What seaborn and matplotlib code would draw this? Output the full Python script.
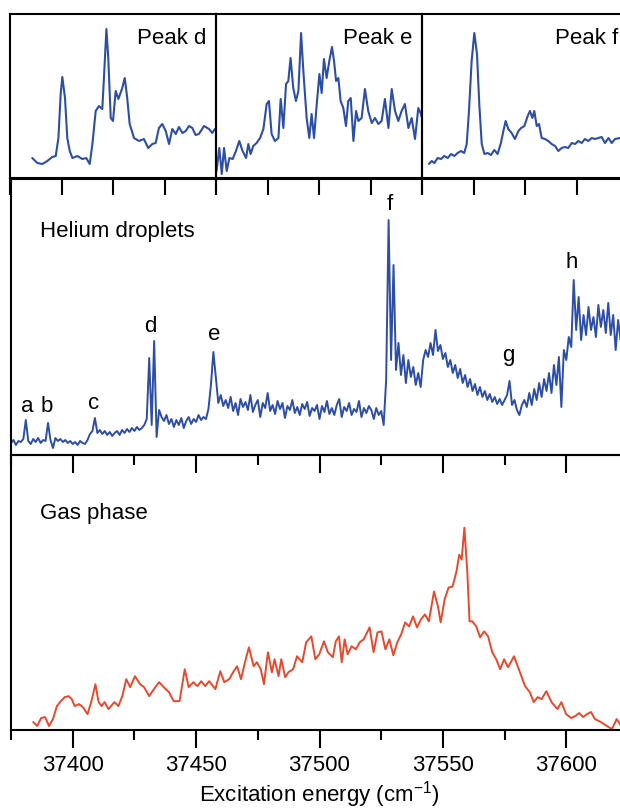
import numpy as np
import matplotlib
matplotlib.use('Agg')
import matplotlib.pyplot as plt
from matplotlib.ticker import MultipleLocator
import seaborn as sns

sns.set_style('ticks')
plt.rcParams['font.family'] = ['Liberation Sans', 'DejaVu Sans']
plt.rcParams['mathtext.fontset'] = 'custom'
plt.rcParams['mathtext.rm'] = 'Liberation Sans'
plt.rcParams['mathtext.it'] = 'Liberation Sans:italic'
plt.rcParams['text.color'] = 'black'
plt.rcParams['axes.labelcolor'] = 'black'
plt.rcParams['xtick.color'] = 'black'

BLUE = '#2d4ea5'
RED = '#e6492d'

# --- inset: peak d (zoom around 37428-37438 cm-1) ---
peak_d_x = [37429.08, 37429.33, 37429.57, 37429.81, 37430.05, 37430.22, 37430.35, 37430.46,
            37430.54, 37430.67, 37430.78, 37430.90, 37431.03, 37431.27, 37431.51, 37431.70,
            37431.87, 37432.00, 37432.16, 37432.32, 37432.48, 37432.56, 37432.68, 37432.77,
            37432.89, 37433.00, 37433.13, 37433.26, 37433.45, 37433.57, 37433.69, 37433.81,
            37434.02, 37434.26, 37434.50, 37434.71, 37434.91, 37435.07, 37435.23, 37435.39,
            37435.56, 37435.72, 37435.88, 37436.05, 37436.20, 37436.37, 37436.53, 37436.69,
            37436.85, 37437.01, 37437.17, 37437.42, 37437.66, 37437.82, 37437.95]
peak_d_y = [20, 15, 14, 17, 21, 22, 40, 84,
            101, 80, 40, 27, 20, 22, 19, 20,
            14, 34, 67, 72, 69, 100, 149, 120,
            60, 57, 87, 79, 90, 100, 80, 54,
            40, 37, 39, 30, 34, 35, 50, 54,
            47, 34, 49, 44, 51, 45, 47, 52,
            50, 43, 44, 52, 49, 45, 49]

# --- inset: peak e (37453-37463 cm-1) ---
peak_e_x = [37453.03, 37453.16, 37453.28, 37453.39, 37453.52, 37453.65, 37453.81, 37453.97,
            37454.13, 37454.29, 37454.46, 37454.57, 37454.68, 37454.81, 37454.97, 37455.14,
            37455.30, 37455.46, 37455.57, 37455.70, 37455.86, 37456.03, 37456.14, 37456.27,
            37456.40, 37456.51, 37456.62, 37456.75, 37456.88, 37457.00, 37457.13, 37457.24,
            37457.40, 37457.53, 37457.64, 37457.76, 37457.89, 37458.02, 37458.13, 37458.24,
            37458.37, 37458.50, 37458.63, 37458.73, 37458.83, 37458.94, 37459.05, 37459.18,
            37459.31, 37459.42, 37459.54, 37459.67, 37459.80, 37459.91, 37460.07, 37460.23,
            37460.39, 37460.56, 37460.72, 37460.88, 37461.04, 37461.20, 37461.37, 37461.53,
            37461.69, 37461.85, 37462.01, 37462.17, 37462.34, 37462.50, 37462.66, 37462.82,
            37462.95, 37463.06]
peak_e_y = [7, 30, 4, 30, 7, 20, 19, 27,
            37, 27, 20, 34, 24, 32, 35, 40,
            49, 74, 77, 44, 37, 40, 79, 50,
            94, 97, 120, 90, 77, 87, 145, 107,
            60, 40, 64, 40, 74, 104, 85, 119,
            100, 117, 131, 117, 97, 100, 77, 70,
            52, 77, 80, 37, 67, 57, 60, 89,
            67, 55, 60, 54, 57, 79, 50, 89,
            67, 57, 67, 74, 50, 60, 39, 70,
            64, 54]

# --- inset: peak f (37525.5-37535.5 cm-1) ---
peak_f_x = [37525.84, 37525.97, 37526.10, 37526.26, 37526.42, 37526.58, 37526.75, 37526.91,
            37527.07, 37527.23, 37527.39, 37527.55, 37527.67, 37527.78, 37527.91, 37528.04,
            37528.17, 37528.28, 37528.40, 37528.53, 37528.69, 37528.85, 37529.01, 37529.17,
            37529.33, 37529.45, 37529.56, 37529.69, 37529.85, 37530.01, 37530.18, 37530.31,
            37530.47, 37530.63, 37530.74, 37530.86, 37530.95, 37531.07, 37531.18, 37531.31,
            37531.47, 37531.63, 37531.79, 37531.96, 37532.12, 37532.28, 37532.44, 37532.60,
            37532.77, 37532.93, 37533.09, 37533.25, 37533.41, 37533.57, 37533.74, 37533.90,
            37534.06, 37534.22, 37534.38, 37534.55, 37534.71, 37534.87, 37535.11, 37535.35,
            37535.50]
peak_f_y = [14, 17, 15, 20, 19, 22, 20, 24,
            22, 25, 27, 25, 34, 67, 117, 145,
            124, 74, 34, 24, 25, 23, 28, 24,
            35, 47, 57, 49, 45, 39, 47, 50,
            52, 62, 67, 60, 67, 52, 54, 40,
            39, 37, 34, 32, 27, 30, 31, 30,
            35, 34, 37, 35, 39, 37, 40, 39,
            40, 41, 35, 40, 35, 39, 40, 38,
            40]

# --- helium droplet spectrum, 1 cm-1 steps from 37375 to 37625 ---
he_energy = np.arange(37375, 37626)
he_signal = [12, 15, 10, 14, 13, 16,
             35, 14, 11, 16, 13, 17, 12, 15, 14, 32,
             15, 7, 17, 14, 16, 13, 15, 12, 14, 11,
             13, 10, 14, 12, 11, 15, 21, 24, 37, 22,
             25, 21, 24, 20, 23, 19, 22, 24, 20, 25,
             22, 26, 23, 27, 24, 28, 25, 27, 30, 36,
             97, 30, 114, 18, 45, 38, 34, 40, 31, 36,
             28, 35, 30, 37, 27, 34, 38, 31, 36, 33,
             40, 35, 38, 36, 46, 70, 103, 78, 52, 60,
             49, 55, 47, 58, 44, 52, 40, 56, 48, 53,
             45, 60, 43, 50, 55, 38, 52, 47, 62, 44,
             50, 41, 54, 46, 52, 37, 49, 45, 55, 42,
             48, 40, 51, 46, 53, 39, 47, 44, 50, 36,
             49, 43, 54, 41, 47, 40, 50, 56, 38, 48,
             44, 52, 40, 46, 43, 54, 38, 47, 42, 49,
             45, 36, 47, 40, 44, 30, 75, 235, 95, 190,
             85, 112, 80, 100, 72, 95, 78, 88, 70, 82,
             68, 95, 105, 98, 112, 100, 125, 104, 110, 96,
             102, 88, 95, 82, 90, 77, 86, 72, 80, 68,
             76, 64, 71, 60, 68, 58, 64, 55, 61, 53,
             58, 51, 56, 50, 55, 60, 74, 50, 55, 45,
             40, 50, 55, 48, 62, 50, 66, 55, 72, 58,
             76, 64, 82, 62, 90, 70, 98, 48, 105, 95,
             118, 108, 175, 125, 158, 115, 140, 120, 148, 125,
             138, 118, 150, 128, 145, 122, 152, 120, 140, 105,
             135, 115, 130, 112, 125]

# peak labels in the droplet spectrum (energy, height of text baseline)
he_labels = ['a', 'b', 'c', 'd', 'e', 'f', 'g', 'h']
he_label_x = [37381.5, 37389.6, 37408.5, 37431.6, 37457.2, 37528.5, 37576.4, 37602.3]
he_label_y = [43, 43, 46, 123, 115, 245, 94, 187]

# --- gas phase spectrum ---
gas_energy = [37384.0, 37385.6, 37387.2, 37388.8, 37390.4, 37392.0, 37393.6, 37395.2, 37396.8, 37398.4,
              37399.6, 37400.8, 37402.5, 37404.1, 37406.0, 37407.6, 37409.2, 37410.5, 37411.7, 37412.9,
              37414.5, 37416.9, 37418.5, 37420.1, 37421.7, 37423.3, 37425.2, 37427.3, 37428.9, 37431.0,
              37432.9, 37435.0, 37436.9, 37439.0, 37440.9, 37443.3, 37445.4, 37447.0, 37448.9, 37450.5,
              37452.1, 37453.7, 37455.3, 37457.8, 37459.8, 37461.4, 37463.4, 37465.0, 37466.6, 37468.2,
              37469.8, 37471.4, 37473.3, 37474.6, 37476.2, 37477.5, 37479.1, 37480.7, 37481.8, 37483.4,
              37484.5, 37486.1, 37487.4, 37489.3, 37490.9, 37493.0, 37494.6, 37496.7, 37498.3, 37499.9,
              37501.8, 37503.4, 37505.4, 37506.6, 37507.9, 37509.0, 37510.2, 37511.4, 37513.0, 37514.7,
              37516.3, 37517.9, 37520.3, 37521.9, 37523.5, 37525.1, 37526.7, 37528.3, 37529.9, 37531.5,
              37533.1, 37534.7, 37536.3, 37537.9, 37539.5, 37541.1, 37542.7, 37544.3, 37546.4, 37548.0,
              37549.1, 37550.7, 37552.3, 37553.9, 37555.5, 37556.6, 37557.6, 37558.7, 37559.9, 37560.8,
              37561.9, 37563.5, 37565.1, 37566.7, 37568.3, 37570.0, 37571.6, 37573.2, 37574.8, 37576.4,
              37578.8, 37581.2, 37583.3, 37585.2, 37586.8, 37588.4, 37590.0, 37591.9, 37594.0, 37596.4,
              37598.0, 37599.9, 37602.0, 37603.6, 37605.2, 37606.8, 37608.4, 37610.0, 37611.6, 37614.0,
              37616.4, 37618.5, 37620.4, 37622.0, 37624.0]
gas_signal = [7, 3, 11, 12, 3, 10, 23, 28, 32, 33,
              30, 23, 25, 22, 15, 28, 45, 27, 23, 27,
              20, 27, 23, 33, 50, 42, 53, 45, 42, 33,
              40, 47, 42, 37, 28, 28, 60, 42, 47, 43,
              48, 43, 48, 40, 58, 47, 50, 57, 63, 50,
              67, 82, 63, 67, 60, 45, 77, 57, 70, 53,
              70, 52, 57, 60, 73, 67, 87, 93, 70, 75,
              88, 77, 72, 88, 93, 67, 90, 75, 83, 80,
              87, 90, 102, 77, 97, 98, 80, 90, 74, 87,
              95, 107, 103, 113, 102, 110, 115, 108, 138, 123,
              107, 130, 142, 143, 158, 175, 170, 202, 157, 108,
              108, 103, 92, 98, 93, 77, 70, 60, 70, 62,
              73, 57, 43, 37, 27, 32, 30, 38, 27, 20,
              27, 15, 11, 13, 16, 12, 15, 17, 10, 7,
              3, 0, 10, 4, 8]

fig = plt.figure(figsize=(6.2, 8.09), dpi=100)
W, H = 620.0, 809.0


def style_frame(ax):
    for s in ax.spines.values():
        s.set_linewidth(1.5)
        s.set_color('black')
    ax.set_facecolor('none')
    ax.set_yticks([])
    ax.set_xlabel('')
    ax.set_ylabel('')


# bottom: gas phase
ax_gas = fig.add_axes([11 / W, (H - 730) / H, 617 / W, 275 / H])
sns.lineplot(x=gas_energy, y=gas_signal, ax=ax_gas, color=RED, linewidth=1.4,
             estimator=None, sort=False)
ax_gas.set_xlim(37375, 37625)
ax_gas.set_ylim(-1, 275)
style_frame(ax_gas)
ax_gas.xaxis.set_major_locator(MultipleLocator(50))
ax_gas.xaxis.set_minor_locator(MultipleLocator(25))
ax_gas.tick_params(axis='x', which='major', direction='out', length=13, width=1.5,
                   labelsize=16, pad=5, top=False)
ax_gas.tick_params(axis='x', which='minor', direction='out', length=7, width=1.5, top=False)
ax_gas.set_xlabel(r'Excitation energy (cm$^{-1}$)', fontsize=16, labelpad=2)
ax_gas.text(29 / 617, 0.767, 'Gas phase', transform=ax_gas.transAxes, fontsize=16,
            ha='left', va='baseline')

# middle: helium droplets
ax_he = fig.add_axes([11 / W, (H - 455) / H, 617 / W, 276 / H])
sns.lineplot(x=he_energy, y=he_signal, ax=ax_he, color=BLUE, linewidth=1.4,
             estimator=None, sort=False)
ax_he.set_xlim(37375, 37625)
ax_he.set_ylim(0, 276)
style_frame(ax_he)
ax_he.xaxis.set_major_locator(MultipleLocator(50))
ax_he.xaxis.set_minor_locator(MultipleLocator(25))
ax_he.tick_params(axis='x', which='major', direction='out', length=13, width=1.5,
                  labelbottom=False, top=False)
ax_he.tick_params(axis='x', which='minor', direction='out', length=7, width=1.5, top=False)
ax_he.text(29 / 617, 0.791, 'Helium droplets', transform=ax_he.transAxes, fontsize=16,
           ha='left', va='baseline')
for lab, lx, ly in zip(he_labels, he_label_x, he_label_y):
    ax_he.text(lx, ly, lab, fontsize=16, ha='center', va='baseline')

# top: zoomed peaks
insets = [('Peak d', 37428.0, peak_d_x, peak_d_y),
          ('Peak e', 37453.0, peak_e_x, peak_e_y),
          ('Peak f', 37525.5, peak_f_x, peak_f_y)]
for i, (name, lo, px, py) in enumerate(insets):
    ax = fig.add_axes([(10 + 206 * i) / W, (H - 178) / H, 206 / W, 164 / H])
    sns.lineplot(x=px, y=py, ax=ax, color=BLUE, linewidth=1.5, estimator=None, sort=False)
    ax.set_xlim(lo, lo + 10)
    ax.set_ylim(0, 164)
    style_frame(ax)
    ax.set_xticks([lo, lo + 2.5, lo + 5, lo + 7.5, lo + 10])
    ax.set_xticklabels([])
    ax.tick_params(axis='x', direction='out', length=12, width=1.5, top=False)
    ax.text(0.951, 0.819, name, transform=ax.transAxes, fontsize=16,
            ha='right', va='baseline')

fig.savefig('out.png', dpi=100, facecolor='white')
